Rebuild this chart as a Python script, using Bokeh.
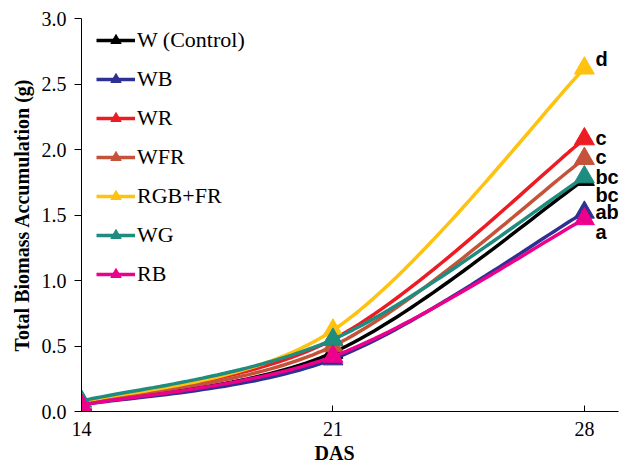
import numpy as np
from bokeh.plotting import figure
from bokeh.models import Legend, LegendItem, FixedTicker, NumeralTickFormatter, ColumnDataSource, Title
from bokeh.core.properties import value
from bokeh.embed import file_html
from bokeh.resources import INLINE

days = [14, 21, 28]
series_names = ["W (Control)", "WB", "WR", "WFR", "RGB+FR", "WG", "RB"]
w_control = [0.06, 0.45, 1.77]
wb = [0.05, 0.40, 1.52]
wr = [0.07, 0.55, 2.08]
wfr = [0.07, 0.50, 1.93]
rgb_fr = [0.07, 0.62, 2.62]
wg = [0.08, 0.55, 1.79]
rb = [0.05, 0.42, 1.47]
colors = ["#000000", "#2E3192", "#ED1C24", "#C5533A", "#FFC20E", "#1E8C7E", "#EC008C"]

annot_labels = ["d", "c", "c", "bc", "bc", "ab", "a"]
annot_y = [2.69, 2.09, 1.94, 1.79, 1.65, 1.52, 1.37]

all_series = [w_control, wb, wr, wfr, rgb_fr, wg, rb]


def smooth(xs, ys, n=40):
    xs = np.asarray(xs, float)
    ys = np.asarray(ys, float)
    px, py = [], []
    m = len(xs)
    for i in range(m - 1):
        i0 = max(i - 1, 0)
        i3 = min(i + 2, m - 1)
        c1x = xs[i] + (xs[i + 1] - xs[i0]) / 6
        c1y = ys[i] + (ys[i + 1] - ys[i0]) / 6
        c2x = xs[i + 1] - (xs[i3] - xs[i]) / 6
        c2y = ys[i + 1] - (ys[i3] - ys[i]) / 6
        t = np.linspace(0, 1, n)
        bx = (1 - t) ** 3 * xs[i] + 3 * (1 - t) ** 2 * t * c1x + 3 * (1 - t) * t ** 2 * c2x + t ** 3 * xs[i + 1]
        by = (1 - t) ** 3 * ys[i] + 3 * (1 - t) ** 2 * t * c1y + 3 * (1 - t) * t ** 2 * c2y + t ** 3 * ys[i + 1]
        if i > 0:
            bx, by = bx[1:], by[1:]
        px.extend(bx)
        py.extend(by)
    return px, py


p = figure(width=620, height=469, output_backend="svg", toolbar_location=None,
           x_range=(14, 28.95), y_range=(0, 3.0),
           min_border_left=81, min_border_right=2, min_border_top=18, min_border_bottom=58)
p.outline_line_color = None
p.xgrid.grid_line_color = None
p.ygrid.grid_line_color = None
p.background_fill_color = "white"
p.border_fill_color = "white"

serif = "Liberation Serif"
p.xaxis.ticker = FixedTicker(ticks=days)
p.yaxis.ticker = FixedTicker(ticks=[0, 0.5, 1.0, 1.5, 2.0, 2.5, 3.0])
p.yaxis.formatter = NumeralTickFormatter(format="0.0")
for ax in (p.xaxis, p.yaxis):
    ax.axis_line_color = "black"
    ax.axis_line_width = 1
    ax.major_tick_line_color = "black"
    ax.minor_tick_line_color = None
    ax.major_label_text_font = serif
    ax.major_label_text_font_size = "20px"
    ax.major_label_text_color = "black"
    ax.axis_label_text_font = serif
    ax.axis_label_text_font_style = "bold"
    ax.axis_label_text_color = "black"
p.xaxis.major_tick_in = 6
p.xaxis.major_tick_out = 0
p.yaxis.major_tick_in = 0
p.yaxis.major_tick_out = 7
p.yaxis.axis_label = "Total Biomass Accumulation (g)"
p.yaxis.axis_label_text_font_size = "20px"
p.xaxis.major_label_standoff = 10
p.yaxis.major_label_standoff = 8
p.yaxis.axis_label_standoff = 6

items = []
for name, ys, c in zip(series_names, all_series, colors):
    sx, sy = smooth(days, ys)
    ln = p.line(sx, sy, line_color=c, line_width=3.5)
    sc = p.scatter(days, ys, marker="triangle", size=20, fill_color=c, line_color=c)
    items.append(LegendItem(label=name, renderers=[ln, sc]))

src = ColumnDataSource(dict(x=[28] * len(annot_labels), y=annot_y, t=annot_labels))
p.text(x="x", y="y", text="t", source=src, x_offset=11,
       text_font=value("Liberation Sans"), text_font_style="bold",
       text_font_size="20px", text_baseline="middle", text_color="black")

das = Title(text="DAS", align="left", offset=233, text_font=serif, text_font_style="bold",
            text_font_size="20px", text_color="black", standoff=2)
p.add_layout(das, "below")

legend = Legend(items=items, location=(15, 124), orientation="vertical")
legend.border_line_color = None
legend.background_fill_alpha = 0
legend.padding = 0
legend.margin = 0
legend.spacing = 13
legend.glyph_height = 26
legend.glyph_width = 39
legend.label_height = 26
legend.label_standoff = 2
legend.label_text_font = serif
legend.label_text_font_size = "22px"
legend.label_text_color = "black"
p.add_layout(legend, "center")

open("out.html", "w").write(file_html(p, INLINE))
